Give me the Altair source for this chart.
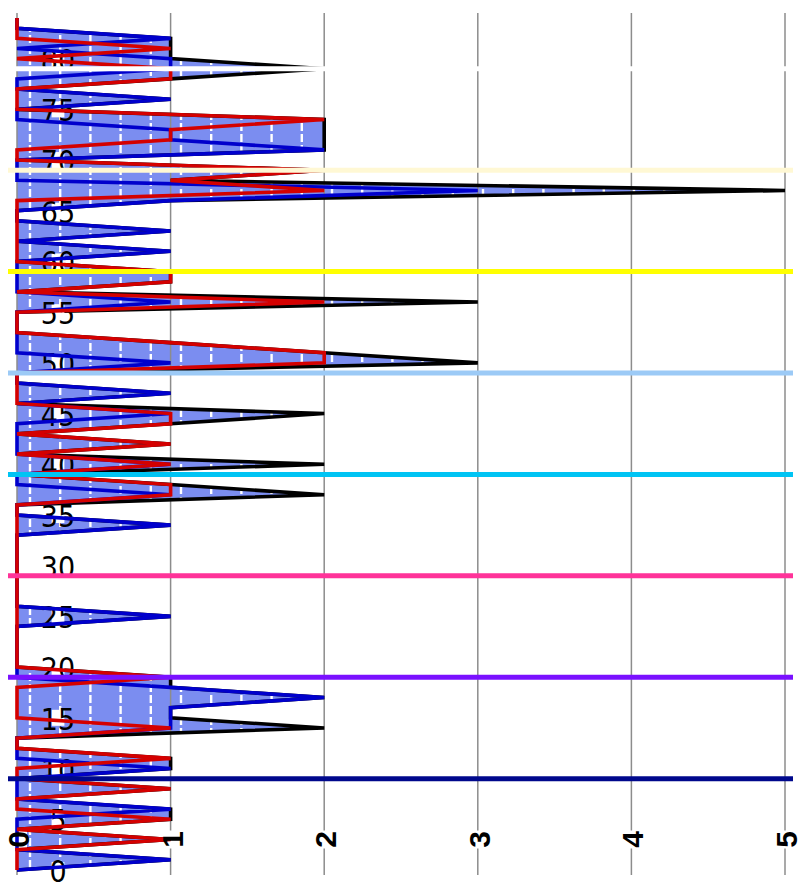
import altair as alt
import pandas as pd

# index of each sample (vertical axis)
idx = list(range(85))

# blue series
blue = [0,1,0,0,0,0,1,0,0,0,
        1,0,0,0,1,1,1,2,1,0,
        0,0,0,0,0,1,0,0,0,0,
        0,0,0,0,1,0,0,1,0,0,
        1,0,0,0,0,1,0,1,0,0,
        1,0,0,0,0,0,1,0,0,0,
        0,1,0,1,0,0,1,3,0,0,
        0,2,1,1,0,0,1,0,0,1,
        1,0,1,0,0]

# red series
red = [0,0,0,1,0,1,0,0,1,0,
       0,1,0,0,1,0,0,0,0,1,
       0,0,0,0,0,0,0,0,0,0,
       0,0,0,0,0,0,0,1,1,0,
       1,0,1,0,1,1,0,0,0,0,
       2,2,1,0,0,0,2,0,1,1,
       0,0,0,0,0,0,0,2,1,2,
       0,0,1,1,2,0,0,0,1,1,
       0,1,0,0,0]

# black series (total), also the filled area
total = [0,1,0,1,0,1,1,0,1,0,
         1,1,0,0,2,1,1,2,1,1,
         0,0,0,0,0,1,0,0,0,0,
         0,0,0,0,1,0,0,2,1,0,
         2,0,1,0,1,2,0,1,0,0,
         3,2,1,0,0,0,3,0,1,1,
         0,1,0,1,0,0,1,5,1,2,
         0,2,2,2,2,0,1,0,1,2,
         1,1,1,0,0]

# horizontal marker lines
rule_at = [9, 19, 29, 39, 49, 59, 69, 79]
rule_colors = ["#00088c", "#7a10ff", "#ff3399", "#00c4f4",
               "#9ccaf6", "#ffff00", "#fff8d4", "#ffffff"]

# axis ticks
y_ticks = list(range(0, 85, 5))
x_ticks = [0, 1, 2, 3, 4, 5]

W, H = 768, 862

df = pd.DataFrame({"i": idx, "blue": blue, "red": red, "total": total})
rules_df = pd.DataFrame({"r": rule_at, "c": rule_colors})
yt_df = pd.DataFrame({"t": y_ticks})
xt_df = pd.DataFrame({"v": x_ticks})
tex_df = pd.DataFrame({"v": [(13 + 30.2 * k) / 153.6 for k in range(26)]})

xs = alt.Scale(domain=[0, 5], nice=False, zero=False)
ys = alt.Scale(domain=[-0.5, 84.5], nice=False, zero=False)

base = alt.Chart(df)

area = base.mark_area(orient="horizontal", color="#7b8df0", opacity=1,
                      interpolate="linear").encode(
    x=alt.X("total:Q", scale=xs, axis=None, stack=None),
    x2=alt.datum(0),
    y=alt.Y("i:Q", scale=ys, axis=None, sort="ascending"),
)

texture = alt.Chart(tex_df).mark_rule(color="white", strokeWidth=2.4, strokeDash=[8, 3]).encode(
    x=alt.X("v:Q", scale=xs, axis=None),
    y=alt.value(0),
    y2=alt.value(H),
)

grid = alt.Chart(xt_df).mark_rule(color="#8c8c8c", strokeWidth=1.5).encode(
    x=alt.X("v:Q", scale=xs, axis=None),
    y=alt.value(0),
    y2=alt.value(H),
)

black_line = base.mark_line(color="black", strokeWidth=3.6).encode(
    x=alt.X("total:Q", scale=xs, axis=None),
    y=alt.Y("i:Q", scale=ys, axis=None),
    order="i:Q",
)

box_path_y = "M-0.4,-0.5L0.4,-0.5L0.4,0.5L-0.4,0.5Z"
ybox = alt.Chart(yt_df).mark_point(shape=box_path_y, size=1024, filled=True,
                                   color="white", opacity=1, strokeWidth=0).encode(
    x=alt.value(41),
    y=alt.Y("t:Q", scale=ys, axis=None),
)

box_path_x = "M-0.36,-0.5L0.36,-0.5L0.36,0.5L-0.36,0.5Z"
xbox = alt.Chart(xt_df).mark_point(shape=box_path_x, size=1296, filled=True,
                                   color="white", opacity=1, strokeWidth=0,
                                   xOffset=3.5).encode(
    x=alt.X("v:Q", scale=xs, axis=None),
    y=alt.value(826.5),
)

ylabels = alt.Chart(yt_df).mark_text(
    font="Liberation Sans Narrow, DejaVu Sans Condensed, Arial Narrow, sans-serif",
    fontSize=30, color="black", align="center", baseline="middle", yOffset=3,
).encode(
    x=alt.value(41),
    y=alt.Y("t:Q", scale=ys, axis=None),
    text=alt.Text("t:Q"),
)

blue_line = base.mark_line(color="#0000cc", strokeWidth=3.6).encode(
    x=alt.X("blue:Q", scale=xs, axis=None),
    y=alt.Y("i:Q", scale=ys, axis=None),
    order="i:Q",
)

red_line = base.mark_line(color="#d40000", strokeWidth=3.6).encode(
    x=alt.X("red:Q", scale=xs, axis=None),
    y=alt.Y("i:Q", scale=ys, axis=None),
    order="i:Q",
)

hrules = alt.Chart(rules_df).mark_rule(strokeWidth=5).encode(
    x=alt.value(-9),
    x2=alt.value(W + 8),
    y=alt.Y("r:Q", scale=ys, axis=None),
    color=alt.Color("c:N", scale=None, legend=None),
)

xlabels = alt.Chart(xt_df).mark_text(
    font="Liberation Sans, Arial, sans-serif", fontSize=30, fontWeight="bold",
    color="black", angle=270, align="center", baseline="middle", xOffset=3,
).encode(
    x=alt.X("v:Q", scale=xs, axis=None),
    y=alt.value(826.5),
    text=alt.Text("v:Q"),
)

chart = alt.layer(
    area, texture, grid, black_line, ybox, xbox, ylabels,
    blue_line, red_line, hrules, xlabels,
).properties(
    width=W, height=H,
    padding={"left": 9, "top": 5, "right": 14, "bottom": 12},
    autosize=alt.AutoSizeParams(type="none"),
).configure_view(strokeWidth=0)

chart.save("out.html", embed_options={"renderer": "svg", "actions": False})
